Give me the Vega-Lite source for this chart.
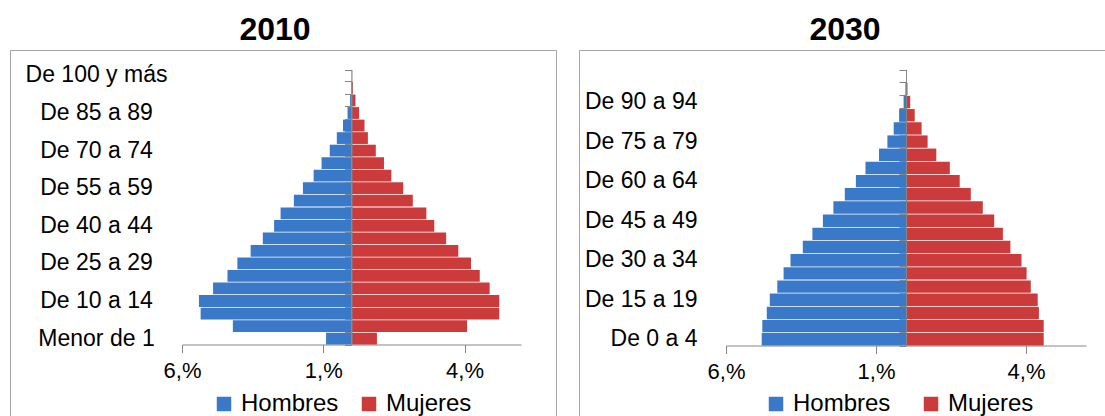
{
  "$schema": "https://vega.github.io/schema/vega-lite/v6.json",
  "padding": {"left": 9, "top": 13, "right": 0, "bottom": 0},
  "spacing": 21,
  "background": "white",
  "config": {
    "view": {"stroke": "#A6A6A6", "strokeWidth": 1},
    "font": "Liberation Sans",
    "axis": {"labelFont": "Liberation Sans", "labelColor": "black", "grid": false, "title": null}
  },
  "datasets": {
    "p2010": [
      {"grupo": "Menor de 1", "sexo": "Hombres", "valor": -0.90}, {"grupo": "Menor de 1", "sexo": "Mujeres", "valor": 0.90},
      {"grupo": "De 1 a 4", "sexo": "Hombres", "valor": -4.20}, {"grupo": "De 1 a 4", "sexo": "Mujeres", "valor": 4.09},
      {"grupo": "De 5 a 9", "sexo": "Hombres", "valor": -5.34}, {"grupo": "De 5 a 9", "sexo": "Mujeres", "valor": 5.23},
      {"grupo": "De 10 a 14", "sexo": "Hombres", "valor": -5.40}, {"grupo": "De 10 a 14", "sexo": "Mujeres", "valor": 5.23},
      {"grupo": "De 15 a 19", "sexo": "Hombres", "valor": -4.90}, {"grupo": "De 15 a 19", "sexo": "Mujeres", "valor": 4.89},
      {"grupo": "De 20 a 24", "sexo": "Hombres", "valor": -4.39}, {"grupo": "De 20 a 24", "sexo": "Mujeres", "valor": 4.54},
      {"grupo": "De 25 a 29", "sexo": "Hombres", "valor": -4.04}, {"grupo": "De 25 a 29", "sexo": "Mujeres", "valor": 4.23},
      {"grupo": "De 30 a 34", "sexo": "Hombres", "valor": -3.57}, {"grupo": "De 30 a 34", "sexo": "Mujeres", "valor": 3.78},
      {"grupo": "De 35 a 39", "sexo": "Hombres", "valor": -3.14}, {"grupo": "De 35 a 39", "sexo": "Mujeres", "valor": 3.35},
      {"grupo": "De 40 a 44", "sexo": "Hombres", "valor": -2.74}, {"grupo": "De 40 a 44", "sexo": "Mujeres", "valor": 2.93},
      {"grupo": "De 45 a 49", "sexo": "Hombres", "valor": -2.51}, {"grupo": "De 45 a 49", "sexo": "Mujeres", "valor": 2.65},
      {"grupo": "De 50 a 54", "sexo": "Hombres", "valor": -2.04}, {"grupo": "De 50 a 54", "sexo": "Mujeres", "valor": 2.17},
      {"grupo": "De 55 a 59", "sexo": "Hombres", "valor": -1.72}, {"grupo": "De 55 a 59", "sexo": "Mujeres", "valor": 1.83},
      {"grupo": "De 60 a 64", "sexo": "Hombres", "valor": -1.34}, {"grupo": "De 60 a 64", "sexo": "Mujeres", "valor": 1.41},
      {"grupo": "De 65 a 69", "sexo": "Hombres", "valor": -1.06}, {"grupo": "De 65 a 69", "sexo": "Mujeres", "valor": 1.15},
      {"grupo": "De 70 a 74", "sexo": "Hombres", "valor": -0.77}, {"grupo": "De 70 a 74", "sexo": "Mujeres", "valor": 0.86},
      {"grupo": "De 75 a 79", "sexo": "Hombres", "valor": -0.52}, {"grupo": "De 75 a 79", "sexo": "Mujeres", "valor": 0.58},
      {"grupo": "De 80 a 84", "sexo": "Hombres", "valor": -0.30}, {"grupo": "De 80 a 84", "sexo": "Mujeres", "valor": 0.46},
      {"grupo": "De 85 a 89", "sexo": "Hombres", "valor": -0.14}, {"grupo": "De 85 a 89", "sexo": "Mujeres", "valor": 0.27},
      {"grupo": "De 90 a 94", "sexo": "Hombres", "valor": -0.05}, {"grupo": "De 90 a 94", "sexo": "Mujeres", "valor": 0.14},
      {"grupo": "De 95 a 99", "sexo": "Hombres", "valor": -0.01}, {"grupo": "De 95 a 99", "sexo": "Mujeres", "valor": 0.05},
      {"grupo": "De 100 y más", "sexo": "Hombres", "valor": 0.0}, {"grupo": "De 100 y más", "sexo": "Mujeres", "valor": 0.01}
    ],
    "p2030": [
      {"grupo": "De 0 a 4", "sexo": "Hombres", "valor": -4.81}, {"grupo": "De 0 a 4", "sexo": "Mujeres", "valor": 4.59},
      {"grupo": "De 5 a 9", "sexo": "Hombres", "valor": -4.79}, {"grupo": "De 5 a 9", "sexo": "Mujeres", "valor": 4.59},
      {"grupo": "De 10 a 14", "sexo": "Hombres", "valor": -4.64}, {"grupo": "De 10 a 14", "sexo": "Mujeres", "valor": 4.43},
      {"grupo": "De 15 a 19", "sexo": "Hombres", "valor": -4.54}, {"grupo": "De 15 a 19", "sexo": "Mujeres", "valor": 4.39},
      {"grupo": "De 20 a 24", "sexo": "Hombres", "valor": -4.29}, {"grupo": "De 20 a 24", "sexo": "Mujeres", "valor": 4.16},
      {"grupo": "De 25 a 29", "sexo": "Hombres", "valor": -4.08}, {"grupo": "De 25 a 29", "sexo": "Mujeres", "valor": 4.02},
      {"grupo": "De 30 a 34", "sexo": "Hombres", "valor": -3.85}, {"grupo": "De 30 a 34", "sexo": "Mujeres", "valor": 3.85},
      {"grupo": "De 35 a 39", "sexo": "Hombres", "valor": -3.44}, {"grupo": "De 35 a 39", "sexo": "Mujeres", "valor": 3.48},
      {"grupo": "De 40 a 44", "sexo": "Hombres", "valor": -3.12}, {"grupo": "De 40 a 44", "sexo": "Mujeres", "valor": 3.23},
      {"grupo": "De 45 a 49", "sexo": "Hombres", "valor": -2.77}, {"grupo": "De 45 a 49", "sexo": "Mujeres", "valor": 2.94},
      {"grupo": "De 50 a 54", "sexo": "Hombres", "valor": -2.42}, {"grupo": "De 50 a 54", "sexo": "Mujeres", "valor": 2.56},
      {"grupo": "De 55 a 59", "sexo": "Hombres", "valor": -2.04}, {"grupo": "De 55 a 59", "sexo": "Mujeres", "valor": 2.16},
      {"grupo": "De 60 a 64", "sexo": "Hombres", "valor": -1.67}, {"grupo": "De 60 a 64", "sexo": "Mujeres", "valor": 1.79},
      {"grupo": "De 65 a 69", "sexo": "Hombres", "valor": -1.35}, {"grupo": "De 65 a 69", "sexo": "Mujeres", "valor": 1.46},
      {"grupo": "De 70 a 74", "sexo": "Hombres", "valor": -0.90}, {"grupo": "De 70 a 74", "sexo": "Mujeres", "valor": 1.01},
      {"grupo": "De 75 a 79", "sexo": "Hombres", "valor": -0.62}, {"grupo": "De 75 a 79", "sexo": "Mujeres", "valor": 0.72},
      {"grupo": "De 80 a 84", "sexo": "Hombres", "valor": -0.41}, {"grupo": "De 80 a 84", "sexo": "Mujeres", "valor": 0.52},
      {"grupo": "De 85 a 89", "sexo": "Hombres", "valor": -0.23}, {"grupo": "De 85 a 89", "sexo": "Mujeres", "valor": 0.29},
      {"grupo": "De 90 a 94", "sexo": "Hombres", "valor": -0.08}, {"grupo": "De 90 a 94", "sexo": "Mujeres", "valor": 0.14},
      {"grupo": "De 95 a 99", "sexo": "Hombres", "valor": -0.02}, {"grupo": "De 95 a 99", "sexo": "Mujeres", "valor": 0.05},
      {"grupo": "De 100 y más", "sexo": "Hombres", "valor": 0.0}, {"grupo": "De 100 y más", "sexo": "Mujeres", "valor": 0.01}
    ]
  },
  "hconcat": [
    {
      "title": {"text": "2010", "fontSize": 32, "fontWeight": "bold", "font": "Liberation Sans", "color": "black", "offset": 3, "dx": -8},
      "width": 546,
      "height": 367,
      "data": {"name": "p2010"},
      "layer": [
        {
          "mark": {"type": "bar"},
          "encoding": {
            "y": {
              "field": "grupo", "type": "nominal",
              "scale": {
                "domain": ["De 100 y más", "De 95 a 99", "De 90 a 94", "De 85 a 89", "De 80 a 84", "De 75 a 79", "De 70 a 74", "De 65 a 69", "De 60 a 64", "De 55 a 59", "De 50 a 54", "De 45 a 49", "De 40 a 44", "De 35 a 39", "De 30 a 34", "De 25 a 29", "De 20 a 24", "De 15 a 19", "De 10 a 14", "De 5 a 9", "De 1 a 4", "Menor de 1"],
                "range": [19.5, 294.5], "paddingInner": 0.06, "paddingOuter": 0
              },
              "axis": {
                "orient": "left", "offset": -86, "values": ["Menor de 1", "De 10 a 14", "De 25 a 29", "De 40 a 44", "De 55 a 59", "De 70 a 74", "De 85 a 89", "De 100 y más"],
                "domain": false, "ticks": false, "tickSize": 0, "labelPadding": 0, "labelAlign": "center", "labelFontSize": 23, "title": null
              }
            },
            "x": {
              "field": "valor", "type": "quantitative",
              "scale": {"domain": [-6, 6], "range": [172, 511], "nice": false},
              "axis": {
                "orient": "bottom", "offset": -72.5, "values": [-6, -1, 4], "labelExpr": "abs(datum.value) + ',%'", "labelFlush": false,
                "tickSize": 8, "domainColor": "#868686", "tickColor": "#868686", "labelFontSize": 22, "labelPadding": 8, "title": null
              }
            },
            "color": {
              "field": "sexo", "type": "nominal",
              "scale": {"domain": ["Hombres", "Mujeres"], "range": ["#3A78C8", "#CC3B3B"]},
              "legend": {
                "orient": "none", "legendX": 202, "legendY": 342, "direction": "horizontal", "title": null,
                "symbolType": "square", "symbolSize": 210, "symbolStrokeWidth": 0, "labelFontSize": 24, "labelFont": "Liberation Sans",
                "labelColor": "black", "labelOffset": 5, "columnPadding": 18, "padding": 0
              }
            }
          }
        },
        {
          "mark": {"type": "tick", "opacity": 0},
          "encoding": {
            "y": {
              "field": "grupo", "type": "nominal",
              "axis": {"orient": "left", "offset": -341.5, "labels": false, "domainColor": "#868686", "tickColor": "#868686", "tickSize": 7, "tickBand": "extent", "title": null, "zindex": 1}
            }
          }
        }
      ],
      "resolve": {"axis": {"y": "independent"}}
    },
    {
      "title": {"text": "2030", "fontSize": 32, "fontWeight": "bold", "font": "Liberation Sans", "color": "black", "offset": 3, "dx": 2},
      "width": 528,
      "height": 367,
      "data": {"name": "p2030"},
      "layer": [
        {
          "mark": {"type": "bar"},
          "encoding": {
            "y": {
              "field": "grupo", "type": "nominal",
              "scale": {
                "domain": ["De 100 y más", "De 95 a 99", "De 90 a 94", "De 85 a 89", "De 80 a 84", "De 75 a 79", "De 70 a 74", "De 65 a 69", "De 60 a 64", "De 55 a 59", "De 50 a 54", "De 45 a 49", "De 40 a 44", "De 35 a 39", "De 30 a 34", "De 25 a 29", "De 20 a 24", "De 15 a 19", "De 10 a 14", "De 5 a 9", "De 0 a 4"],
                "range": [19.5, 295.5], "paddingInner": 0.06, "paddingOuter": 0
              },
              "axis": {
                "orient": "left", "offset": -118, "values": ["De 0 a 4", "De 15 a 19", "De 30 a 34", "De 45 a 49", "De 60 a 64", "De 75 a 79", "De 90 a 94"],
                "domain": false, "ticks": false, "tickSize": 0, "labelPadding": 0, "labelAlign": "right", "labelFontSize": 23, "title": null
              }
            },
            "x": {
              "field": "valor", "type": "quantitative",
              "scale": {"domain": [-6, 6], "range": [147, 507], "nice": false},
              "axis": {
                "orient": "bottom", "offset": -71.5, "values": [-6, -1, 4], "labelExpr": "abs(datum.value) + ',%'", "labelFlush": false,
                "tickSize": 8, "domainColor": "#868686", "tickColor": "#868686", "labelFontSize": 22, "labelPadding": 8, "title": null
              }
            },
            "color": {
              "field": "sexo", "type": "nominal",
              "scale": {"domain": ["Hombres", "Mujeres"], "range": ["#3A78C8", "#CC3B3B"]},
              "legend": {
                "orient": "none", "legendX": 185, "legendY": 342, "direction": "horizontal", "title": null,
                "symbolType": "square", "symbolSize": 210, "symbolStrokeWidth": 0, "labelFontSize": 24, "labelFont": "Liberation Sans",
                "labelColor": "black", "labelOffset": 5, "columnPadding": 28, "padding": 0
              }
            }
          }
        },
        {
          "mark": {"type": "tick", "opacity": 0},
          "encoding": {
            "y": {
              "field": "grupo", "type": "nominal",
              "axis": {"orient": "left", "offset": -327, "labels": false, "domainColor": "#868686", "tickColor": "#868686", "tickSize": 7, "tickBand": "extent", "title": null, "zindex": 1}
            }
          }
        }
      ],
      "resolve": {"axis": {"y": "independent"}}
    }
  ],
  "resolve": {
    "scale": {"x": "independent", "y": "independent", "color": "independent"},
    "legend": {"color": "independent"}
  }
}
